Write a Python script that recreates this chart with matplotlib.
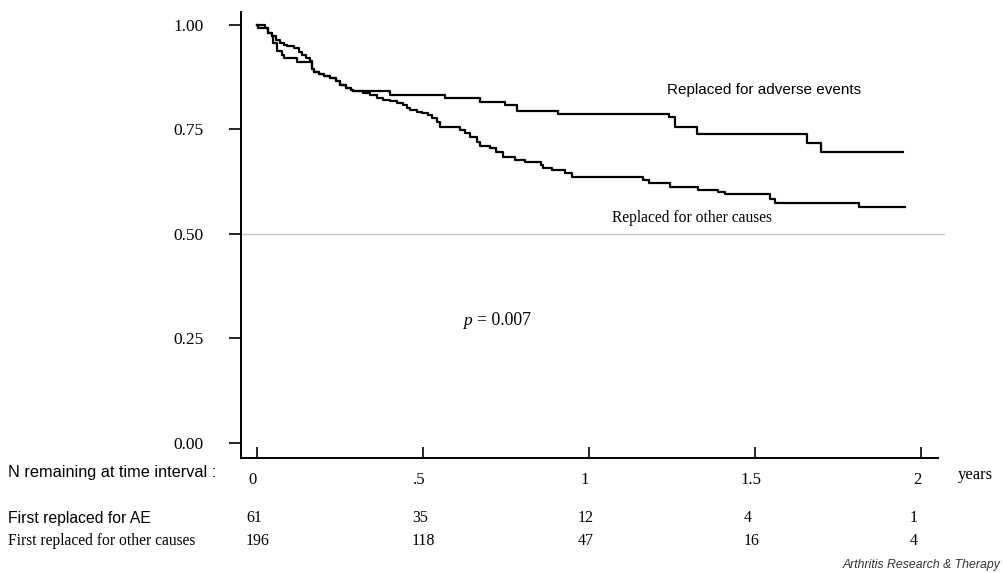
import matplotlib
matplotlib.use("Agg")
import matplotlib.pyplot as plt
import matplotlib.transforms as mtransforms
import numpy as np

# ---------------- data ----------------
# Kaplan-Meier step curves (time in years, survival after each step)
ae_time = [0.0, 0.024, 0.034, 0.044, 0.049, 0.059, 0.075, 0.080, 0.120, 0.166,
           0.172, 0.187, 0.202, 0.220, 0.238, 0.250, 0.268, 0.283, 0.289, 0.401,
           0.566, 0.672, 0.747, 0.783, 0.907, 1.242, 1.258, 1.325, 1.657, 1.699]
ae_surv = [1.000, 0.993, 0.981, 0.973, 0.957, 0.937, 0.928, 0.921, 0.911, 0.895,
           0.888, 0.883, 0.877, 0.873, 0.866, 0.856, 0.849, 0.844, 0.841, 0.833,
           0.825, 0.815, 0.809, 0.795, 0.786, 0.780, 0.756, 0.739, 0.717, 0.696]
ae_end = 1.946

other_time = [0.0, 0.002, 0.034, 0.045, 0.057, 0.069, 0.081, 0.090, 0.111, 0.127,
              0.136, 0.148, 0.160, 0.166, 0.172, 0.187, 0.202, 0.220, 0.238, 0.250,
              0.268, 0.283, 0.289, 0.319, 0.340, 0.361, 0.380, 0.401, 0.422, 0.440,
              0.452, 0.461, 0.482, 0.497, 0.515, 0.527, 0.542, 0.551, 0.611, 0.627,
              0.642, 0.663, 0.672, 0.702, 0.720, 0.741, 0.777, 0.807, 0.855, 0.863,
              0.889, 0.928, 0.949, 1.163, 1.181, 1.244, 1.328, 1.389, 1.410, 1.545,
              1.560, 1.813]
other_surv = [1.000, 0.993, 0.981, 0.974, 0.964, 0.957, 0.952, 0.949, 0.945, 0.935,
              0.927, 0.921, 0.914, 0.895, 0.888, 0.883, 0.877, 0.873, 0.866, 0.856,
              0.849, 0.844, 0.842, 0.837, 0.833, 0.825, 0.821, 0.817, 0.813, 0.809,
              0.801, 0.797, 0.793, 0.789, 0.785, 0.777, 0.769, 0.757, 0.749, 0.741,
              0.733, 0.720, 0.711, 0.705, 0.697, 0.685, 0.678, 0.672, 0.665, 0.657,
              0.653, 0.645, 0.637, 0.629, 0.621, 0.613, 0.606, 0.601, 0.595, 0.584,
              0.574, 0.565]
other_end = 1.952

y_ticks = [0.0, 0.25, 0.50, 0.75, 1.00]
y_tick_labels = ["0.00", "0.25", "0.50", "0.75", "1.00"]
x_ticks = [0, 0.5, 1, 1.5, 2]
x_tick_labels = ["0", ".5", "1", "1.5", "2"]

risk_ae = [61, 35, 12, 4, 1]
risk_other = [196, 118, 47, 16, 4]

SERIF = ["Liberation Serif", "DejaVu Serif"]
SANS = ["Liberation Sans", "DejaVu Sans"]

# ---------------- figure ----------------
fig = plt.figure(figsize=(10.04, 5.73), dpi=100)
ax = fig.add_axes([0.2400, 0.2007, 0.7012, 0.7784])
ax.set_xlim(-0.0482, 2.0723)
ax.set_ylim(-0.0359, 1.0311)

# reference line at 0.5
ax.axhline(0.5, color="#c4c4c4", lw=1.0, zorder=1)

ax.step(ae_time + [ae_end], ae_surv + [ae_surv[-1]], where="post",
        color="black", lw=1.6, zorder=3)
ax.step(other_time + [other_end], other_surv + [other_surv[-1]], where="post",
        color="black", lw=1.6, zorder=3)

for side in ["top", "right"]:
    ax.spines[side].set_visible(False)
ax.spines["left"].set_linewidth(1.4)
ax.spines["bottom"].set_linewidth(1.4)
ax.spines["bottom"].set_bounds(-0.0482, 2.051)

ax.set_yticks(y_ticks)
ax.set_yticklabels(y_tick_labels, fontfamily=SERIF, fontsize=12.5)
ax.tick_params(axis="y", direction="out", length=9, width=1.2, pad=18)

ax.set_xticks(x_ticks)
ax.set_xticklabels(x_tick_labels, fontfamily=SERIF, fontsize=12)
ax.tick_params(axis="x", direction="in", length=8, width=1.2, pad=7)
shift = mtransforms.ScaledTranslation(-4 / 100, -4 / 100, fig.dpi_scale_trans)
for lab in ax.get_xticklabels():
    lab.set_transform(lab.get_transform() + shift)

# curve labels
ax.text(1.235, 0.8445, "Replaced for adverse events", fontfamily=SANS,
        fontsize=11, ha="left", va="center")
ax.text(1.069, 0.538, "Replaced for other causes", fontfamily=SERIF,
        fontsize=11.2, ha="left", va="center")
ax.text(0.620, 0.292, "p", fontfamily=SERIF, fontstyle="italic",
        fontsize=12.5, ha="left", va="center")
ax.text(0.663, 0.292, "= 0.007", fontfamily=SERIF,
        fontsize=12.8, ha="left", va="center")

# risk table
fig.text(8 / 1004, 1 - 473 / 573, "N remaining at time interval :",
         fontfamily=SANS, fontsize=11.7, ha="left", va="center")
fig.text(958 / 1004, 1 - 475 / 573, "years", fontfamily=SERIF,
         fontsize=12, ha="left", va="center")
fig.text(8 / 1004, 1 - 518 / 573, "First replaced for AE",
         fontfamily=SANS, fontsize=11.3, ha="left", va="center")
fig.text(8 / 1004, 1 - 541 / 573, "First replaced for other causes",
         fontfamily=SERIF, fontsize=11.2, ha="left", va="center")

blend = mtransforms.blended_transform_factory(ax.transData, fig.transFigure)
for xt, a, o in zip(x_ticks, risk_ae, risk_other):
    ax.text(xt - 0.033, 1 - 518 / 573, str(a), transform=blend,
            fontfamily=SERIF, fontsize=11.5, ha="left", va="center")
    ax.text(xt - 0.033, 1 - 541 / 573, str(o), transform=blend,
            fontfamily=SERIF, fontsize=11.5, ha="left", va="center")

fig.text(1000 / 1004, 1 - 565 / 573, "Arthritis Research & Therapy",
         fontfamily=SANS, fontstyle="italic", fontsize=8.8, color="#333333",
         ha="right", va="center")

fig.savefig("out.png", dpi=100)
